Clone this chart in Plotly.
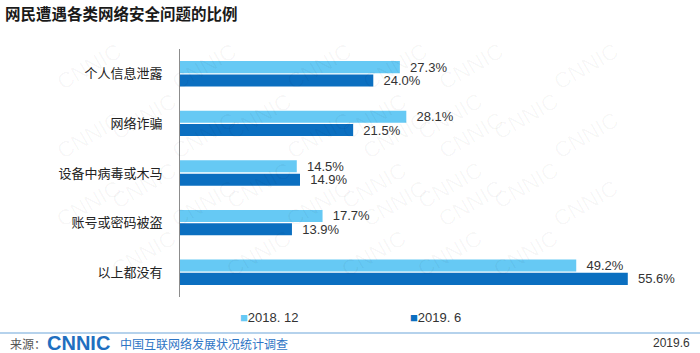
import plotly.graph_objects as go

categories = ["个人信息泄露", "网络诈骗", "设备中病毒或木马", "账号或密码被盗", "以上都没有"]
series_names = ["2018. 12", "2019. 6"]
values_2018_12 = [27.3, 28.1, 14.5, 17.7, 49.2]
values_2019_6 = [24.0, 21.5, 14.9, 13.9, 55.6]
colors = ["#66C9F4", "#0B6FC0"]

W, H = 700, 353
L, R, T, B = 180, 40, 49, 56

fig = go.Figure()
for name, vals, col in zip(series_names, [values_2018_12, values_2019_6], colors):
    fig.add_trace(go.Bar(
        y=categories, x=vals, name=name, orientation="h",
        marker=dict(color=col, line=dict(width=0)),
        text=vals, texttemplate="  %{x:.1f}%", textposition="outside",
        constraintext="none",
        textfont=dict(family="Liberation Sans, Arial", size=13, color="#333333"),
        cliponaxis=False, showlegend=False,
    ))

def px2paper(x, y):
    return (x - L) / (W - L - R), (H - B - y) / (H - T - B)

ann = []
# faint watermark, kept inside the page
for row in range(6):
    for col in range(6):
        xp = 50 + col * 115 + (row % 2) * 55
        yp = 35 + row * 50
        if xp > 655 or yp > 315:
            continue
        xx, yy = px2paper(xp, yp)
        ann.append(dict(text="CNNIC", x=xx, y=yy, xref="paper", yref="paper",
                        showarrow=False, textangle=-30,
                        font=dict(family="Liberation Sans, Arial", size=22, color="rgba(0,0,0,0.035)")))

# title
tx, ty = px2paper(3, 13)
ann.append(dict(text="<b>网民遭遇各类网络安全问题的比例</b>", x=tx, y=ty,
                xref="paper", yref="paper", xanchor="left", yanchor="middle", showarrow=False,
                font=dict(family="Noto Sans CJK SC", size=15.5, color="#1a1a1a")))

# legend (as labelled swatches)
for name, col, xpx in zip(series_names, colors, [238, 408]):
    lx, ly = px2paper(xpx, 317)
    ann.append(dict(text=f"<span style='color:{col}'>■</span>{name}", x=lx, y=ly,
                    xref="paper", yref="paper", xanchor="left", yanchor="middle", showarrow=False,
                    font=dict(family="Liberation Sans, Arial", size=13, color="#333333")))

# footer
fx, fy = px2paper(8, 343)
ann.append(dict(text="来源：", x=fx, y=fy, xref="paper", yref="paper",
                xanchor="left", yanchor="middle", showarrow=False,
                font=dict(family="Noto Sans CJK SC", size=12, color="#555555")))
fx2, _ = px2paper(45, 343)
ann.append(dict(text="<b>CNNIC</b>", x=fx2, y=fy, xref="paper", yref="paper",
                xanchor="left", yanchor="middle", showarrow=False,
                font=dict(family="Liberation Sans, Arial", size=20, color="#1F6FC0")))
fx3, _ = px2paper(118, 343)
ann.append(dict(text="中国互联网络发展状况统计调查", x=fx3, y=fy, xref="paper", yref="paper",
                xanchor="left", yanchor="middle", showarrow=False,
                font=dict(family="Noto Sans CJK SC", size=12, color="#2E75C5")))
fx4, _ = px2paper(692, 343)
ann.append(dict(text="2019.6", x=fx4, y=fy, xref="paper", yref="paper",
                xanchor="right", yanchor="middle", showarrow=False,
                font=dict(family="Liberation Sans, Arial", size=12, color="#333333")))

lx0, ly = px2paper(0, 333)
lx1, _ = px2paper(700, 333)
shapes = [dict(type="line", xref="paper", yref="paper", x0=lx0, x1=lx1, y0=ly, y1=ly,
               line=dict(color="#9DC3E6", width=1.5))]

fig.update_layout(
    width=W, height=H,
    margin=dict(l=L, r=R, t=T, b=B),
    paper_bgcolor="white", plot_bgcolor="rgba(0,0,0,0)",
    barmode="group", bargap=0.46, bargroupgap=0.1,
    xaxis=dict(range=[0, 59.6], visible=False),
    yaxis=dict(categoryorder="array", categoryarray=categories, autorange="reversed",
               showline=True, linecolor="#8c8c8c", linewidth=1, ticks="",
               showgrid=False, ticklabelstandoff=14,
               tickfont=dict(family="Noto Sans CJK SC", size=13, color="#222222")),
    annotations=ann, shapes=shapes,
    showlegend=False,
)

fig.write_html("out.html")
